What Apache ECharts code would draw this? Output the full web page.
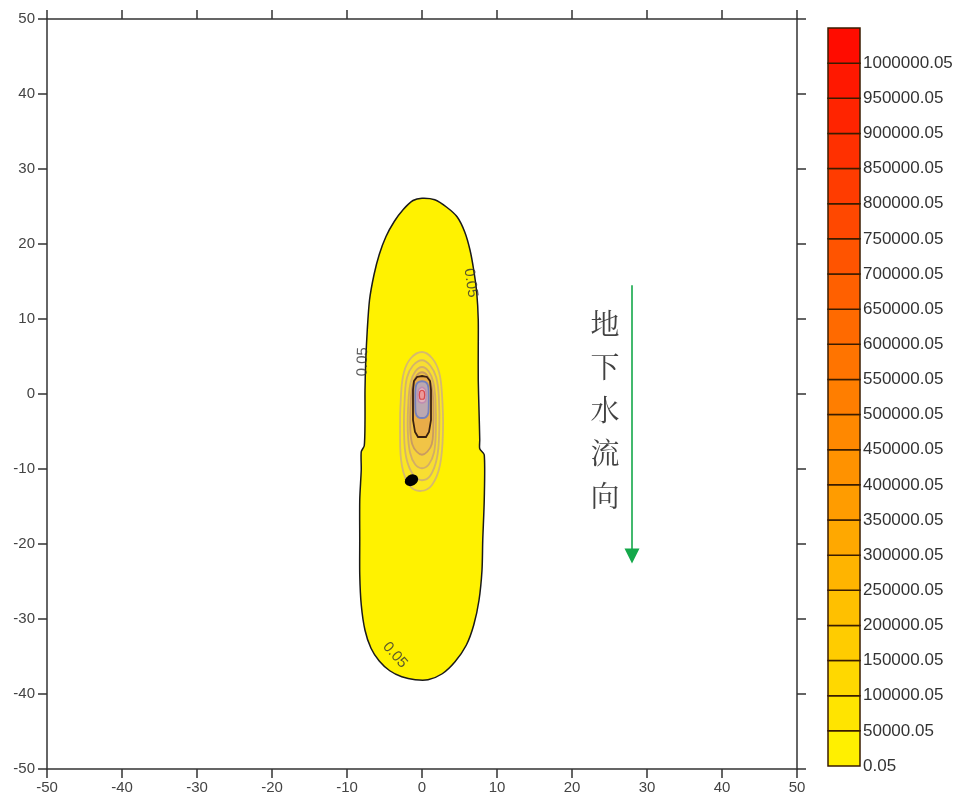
<!DOCTYPE html>
<html><head><meta charset="utf-8">
<script src="https://cdn.jsdelivr.net/npm/echarts@6/dist/echarts.min.js"></script>
<style>html,body{margin:0;padding:0;background:#fff}#c{width:960px;height:805px}</style>
</head><body><div id="c"></div>
<script>
// ---- axis ----
const axisMin = -50, axisMax = 50, axisStep = 10;

// ---- contour outlines (data units: x, y) ----
const contour005 = [[0,26.1],[1.7,25.9],[3.3,24.9],[4.7,23.6],[5.7,21.6],[6.4,19.2],[6.9,16.5],[7.3,13.5],[7.5,9.9],[7.5,5.9],[7.5,1.9],[7.6,-2.1],[7.7,-6.1],[7.7,-7.3],[8.3,-8.1],[8.3,-14.1],[8.1,-19.5],[8.0,-23.5],[7.6,-27.5],[6.9,-30.8],[5.9,-33.5],[4.4,-35.7],[2.7,-37.3],[0.8,-38.1],[-0.9,-38.1],[-2.7,-37.7],[-4.3,-36.9],[-5.7,-35.6],[-6.8,-33.9],[-7.6,-31.5],[-8.1,-28.1],[-8.3,-24.1],[-8.3,-19.5],[-8.3,-14.1],[-8.1,-10.1],[-8.1,-7.7],[-7.7,-6.9],[-7.6,-3.5],[-7.6,0.5],[-7.5,4.5],[-7.3,8.5],[-7.0,12.5],[-6.4,15.9],[-5.7,18.6],[-4.8,21.0],[-3.7,23.0],[-2.5,24.6],[-1.2,25.8]];
const contourB1 = [[0,5.6],[1.33,4.8],[2.27,2.93],[2.67,-0.13],[2.8,-4.8],[2.4,-9.47],[1.33,-12.13],[-0.13,-12.93],[-1.6,-12.27],[-2.67,-9.6],[-2.93,-4.8],[-2.8,-0.13],[-2.4,2.93],[-1.47,4.8]];
const contourB2 = [[0,4.5],[1.1,3.8],[1.9,2.2],[2.25,-0.5],[2.3,-4.8],[2.0,-8.5],[1.1,-10.9],[0,-11.5],[-1.1,-10.9],[-2.1,-8.5],[-2.4,-4.8],[-2.3,-0.5],[-2.0,2.2],[-1.2,3.8]];
const contourB3 = [[0,3.6],[0.9,3.0],[1.5,1.6],[1.8,-0.8],[1.85,-4.8],[1.6,-7.8],[0.9,-9.4],[0,-9.9],[-0.9,-9.4],[-1.6,-7.8],[-1.9,-4.8],[-1.8,-0.8],[-1.5,1.6],[-0.9,3.0]];
const contourB4 = [[0,2.9],[0.75,2.4],[1.25,1.2],[1.5,-1],[1.5,-4.8],[1.3,-6.7],[0.7,-7.7],[0,-8.1],[-0.7,-7.7],[-1.3,-6.7],[-1.55,-4.8],[-1.5,-1],[-1.25,1.2],[-0.75,2.4]];
const contourC1 = [[0,2.4],[0.67,2.27],[1.07,1.73],[1.2,0.53],[1.2,-3.47],[0.93,-5.07],[0.53,-5.73],[-0.53,-5.73],[-0.93,-5.07],[-1.2,-3.47],[-1.2,0.53],[-1.07,1.73],[-0.67,2.27]];
const contourC2 = [[0,1.7],[0.6,1.5],[0.85,0.9],[0.9,-0.5],[0.85,-2.5],[0.5,-3.1],[0,-3.2],[-0.5,-3.1],[-0.85,-2.5],[-0.9,-0.5],[-0.85,0.9],[-0.6,1.5]];
const contourC3 = [[0,0.9],[0.45,0.6],[0.55,-0.3],[0.45,-1.0],[0,-1.2],[-0.45,-1.0],[-0.55,-0.3],[-0.45,0.6]];
const contourC4 = [[0,0.5],[0.3,0.3],[0.3,-0.6],[0,-0.7],[-0.3,-0.6],[-0.3,0.3]];

// ---- contour labels, source point, arrow, text ----
const contourLabelPts = [[6.5,14.8,-82],[-7.9,4.3,88],[-3.6,-34.8,-48]];
const contourLabelText = '0.05';
const sourcePoint = [[-1.4,-11.5]];
const flowArrow = [[28,14.5],[28,-21.6]];
const flowTextPos = [[24.4,-2.1]];
const flowText = '地下水流向';

// ---- colour scale legend ----
const legendLevels = [0,50000,100000,150000,200000,250000,300000,350000,400000,450000,500000,550000,600000,650000,700000,750000,800000,850000,900000,950000,1000000];
const legendTop = 1050000;
const legendLabels = ['0.05','50000.05','100000.05','150000.05','200000.05','250000.05','300000.05','350000.05','400000.05','450000.05','500000.05','550000.05','600000.05','650000.05','700000.05','750000.05','800000.05','850000.05','900000.05','950000.05','1000000.05'];
const legendColors = ['#FFF000','#FFE400','#FFD800','#FFCC00','#FFC000','#FFB400','#FFA800','#FF9C00','#FF9200','#FF8800','#FF7E00','#FF7400','#FF6A00','#FF6000','#FF5400','#FF4800','#FF3C00','#FF3000','#FF2400','#FF1800','#FF0C00'];

const contourLayers = [
  {pts: contour005, fill:'#FFF200', stroke:'#1a1a1a', w:1.5, smooth:0.25},
  {pts: contourB1, fill:'#FBE722', stroke:'rgba(208,178,125,0.85)', w:1.8, smooth:0.4},
  {pts: contourB2, fill:'#F8DE32', stroke:'rgba(206,172,118,0.85)', w:1.8, smooth:0.4},
  {pts: contourB3, fill:'#F5D23E', stroke:'rgba(204,166,112,0.85)', w:1.8, smooth:0.4},
  {pts: contourB4, fill:'#F1C446', stroke:'rgba(196,150,100,0.9)', w:1.8, smooth:0.4},
  {pts: contourC1, fill:'#E9AC48', stroke:'#3a2010', w:1.8, smooth:0},
  {pts: contourC2, fill:'#BCA8B0', stroke:'#7480BC', w:1.8, smooth:0.2},
  {pts: contourC3, fill:'#E2B2BE', stroke:'#C08CB0', w:1.5, smooth:0.2},
  {pts: contourC4, fill:'#EC9A9A', stroke:'#D84848', w:1.2, smooth:0.2}
];

const font = "'Liberation Sans', Arial, Helvetica, sans-serif";
const axisLineStyle = {color:'#333', width:1.5};

const chart = echarts.init(document.getElementById('c'), null, {renderer:'canvas'});
const option = {
  backgroundColor:'#ffffff',
  animation:false,
  grid:[
    {left:47, top:19, width:750, height:750},
    {left:828, top:28, width:32, height:738}
  ],
  xAxis:[
    {gridIndex:0, type:'value', min:axisMin, max:axisMax, interval:axisStep, position:'bottom',
     axisLine:{onZero:false, lineStyle:axisLineStyle}, axisTick:{inside:false, length:9, lineStyle:axisLineStyle},
     axisLabel:{color:'#444', fontSize:15, fontFamily:font, margin:11}, splitLine:{show:false}},
    {gridIndex:0, type:'value', min:axisMin, max:axisMax, interval:axisStep, position:'top',
     axisLine:{onZero:false, lineStyle:axisLineStyle}, axisTick:{inside:false, length:9, lineStyle:axisLineStyle},
     axisLabel:{show:false}, splitLine:{show:false}},
    {gridIndex:1, type:'value', min:0, max:1, show:false}
  ],
  yAxis:[
    {gridIndex:0, type:'value', min:axisMin, max:axisMax, interval:axisStep, position:'left',
     axisLine:{onZero:false, lineStyle:axisLineStyle}, axisTick:{inside:false, length:9, lineStyle:axisLineStyle},
     axisLabel:{color:'#444', fontSize:15, fontFamily:font, margin:12}, splitLine:{show:false}},
    {gridIndex:0, type:'value', min:axisMin, max:axisMax, interval:axisStep, position:'right',
     axisLine:{onZero:false, lineStyle:axisLineStyle}, axisTick:{inside:false, length:9, lineStyle:axisLineStyle},
     axisLabel:{show:false}, splitLine:{show:false}},
    {gridIndex:1, type:'value', min:0, max:legendTop, interval:50000, position:'right',
     axisLine:{show:false}, axisTick:{show:false}, splitLine:{show:false},
     axisLabel:{show:true, color:'#333', fontSize:17, fontFamily:font, margin:3, padding:[8,0,0,0],
       formatter:(v)=>{const i = legendLevels.indexOf(v); return i>=0 ? legendLabels[i] : '';}}}
  ],
  series:[
    {type:'custom', xAxisIndex:0, yAxisIndex:0, clip:true, silent:true,
     data: contourLayers.map((c,i)=>[i,0]),
     renderItem:(params, api)=>{
       const c = contourLayers[params.dataIndex];
       const pts = c.pts.map(p=>api.coord(p));
       return {type:'polygon', shape:{points:pts, smooth:c.smooth}, style:{fill:c.fill, stroke:c.stroke, lineWidth:c.w}};
     }},
    {type:'scatter', xAxisIndex:0, yAxisIndex:0, silent:true, data:sourcePoint,
     symbol:'circle', symbolSize:[14,11], symbolRotate:30, itemStyle:{color:'#000', opacity:1}, z:5},
    {type:'scatter', xAxisIndex:0, yAxisIndex:0, silent:true, z:6,
     data: contourLabelPts.map(p=>({value:[p[0],p[1]], label:{rotate:p[2]}})),
     symbolSize:0,
     label:{show:true, position:'inside', formatter:contourLabelText, color:'#333', fontSize:15, fontFamily:font}},
    {type:'lines', coordinateSystem:'cartesian2d', xAxisIndex:0, yAxisIndex:0, silent:true, z:6,
     data:[{coords:flowArrow}], symbol:['none','triangle'], symbolSize:[13,15],
     lineStyle:{color:'#14A84A', width:1.6, opacity:1}},
    {type:'scatter', xAxisIndex:0, yAxisIndex:0, silent:true, z:6, data:flowTextPos, symbolSize:0,
     label:{show:true, position:'inside', formatter:flowText.split('').join('\n'), lineHeight:43,
       color:'#111', fontSize:29, fontFamily:"'Noto Serif CJK SC','Noto Sans CJK SC',sans-serif"}},
    {type:'custom', xAxisIndex:2, yAxisIndex:2, silent:true,
     data: legendLevels.map(v=>[0,v]),
     renderItem:(params, api)=>{
       const i = params.dataIndex;
       const hi = i+1 < legendLevels.length ? legendLevels[i+1] : legendTop;
       const p0 = api.coord([0, legendLevels[i]]);
       const p1 = api.coord([1, hi]);
       return {type:'rect', shape:{x:p0[0], y:p1[1], width:p1[0]-p0[0], height:p0[1]-p1[1]},
         style:{fill:legendColors[i], stroke:'#3a1c00', lineWidth:1.5}};
     }}
  ]
};
chart.setOption(option);
</script>
</body></html>
